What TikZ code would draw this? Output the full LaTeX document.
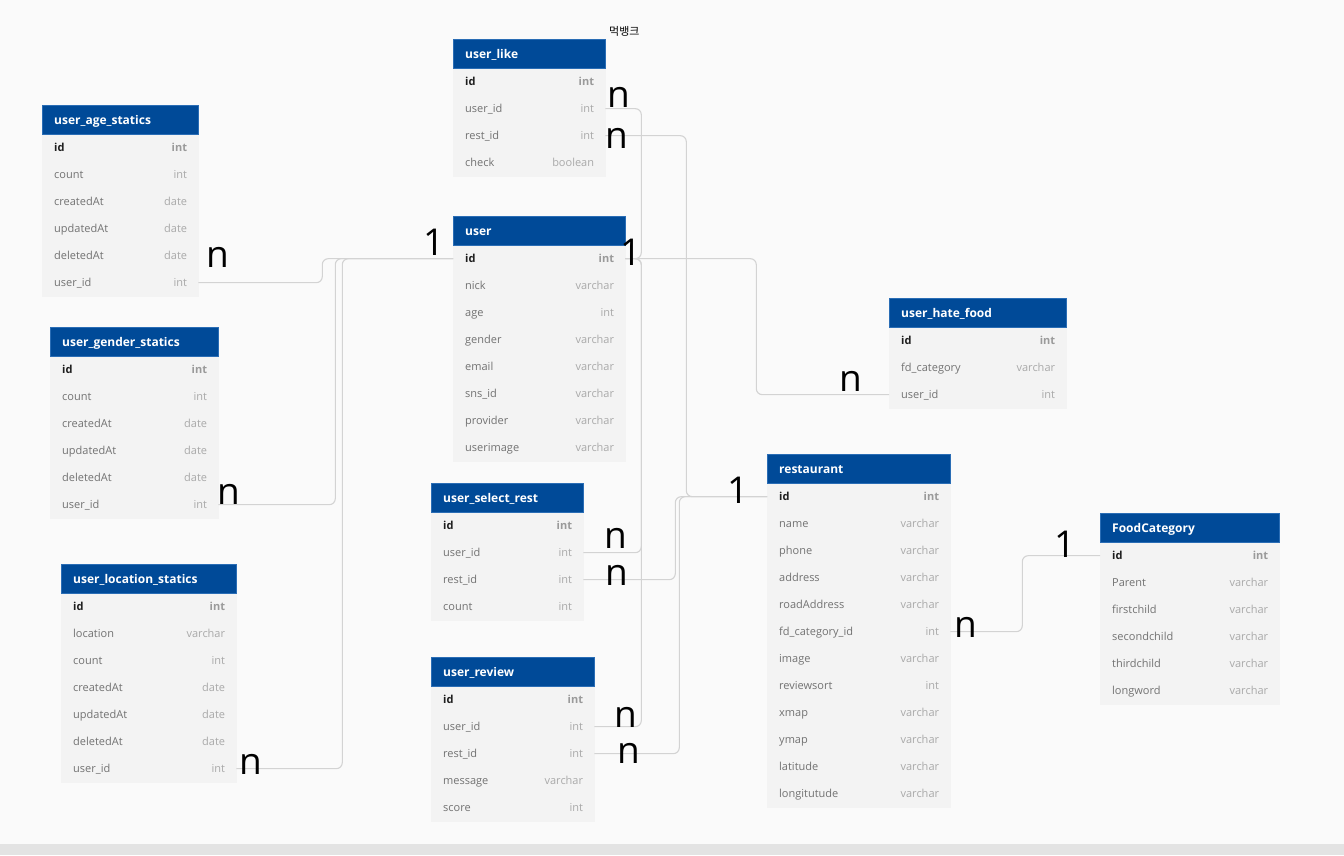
\documentclass[tikz,border=0pt]{standalone}
\usepackage{fontspec}
\setmainfont{Open Sans}
\newfontfamily\krfont{Noto Sans CJK KR}
\definecolor{bgcol}{HTML}{FAFAFA}
\definecolor{barcol}{HTML}{E3E3E3}
\definecolor{hdrblue}{HTML}{004A98}
\definecolor{hdredge}{HTML}{2A6DB5}
\definecolor{bodycol}{HTML}{F3F3F3}
\definecolor{namecol}{HTML}{727272}
\definecolor{typecol}{HTML}{A9A9A9}
\definecolor{idcol}{HTML}{1E1E1E}
\definecolor{idtypecol}{HTML}{9A9A9A}
\definecolor{linecol}{HTML}{D3D3D3}
\tikzset{
  hdr/.style={rectangle, fill=hdrblue, draw=hdredge, line width=0.8pt, inner sep=0, minimum height=29pt, anchor=north west},
  rowbox/.style={rectangle, fill=bodycol, draw=bodycol, line width=0.3pt, inner sep=0, minimum height=27pt, anchor=north west},
  htext/.style={anchor=base west, inner sep=0, text=white, font=\fontsize{12}{14}\selectfont\bfseries},
  fname/.style={anchor=base west, inner sep=0, text=namecol, font=\fontsize{11}{13}\selectfont},
  ftype/.style={anchor=base east, inner sep=0, text=typecol, font=\fontsize{11}{13}\selectfont},
  card/.style={anchor=base, inner sep=0, text=black, font=\fontsize{37}{40}\selectfont},
  conn/.style={draw=linecol, line width=1.1pt, rounded corners=6pt},
}
\newcommand\ertab[7]{%
  \node[rowbox, minimum width=#4pt] (#1-1) at (#2,-#3-29) {};
  \node[fname, text=idcol, font=\fontsize{11}{13}\selectfont\bfseries] (#1-1-n) at ([xshift=12pt,yshift=-3.8pt]#1-1.west) {id};
  \node[ftype, text=idtypecol, font=\fontsize{11}{13}\selectfont\bfseries] (#1-1-t) at ([xshift=-11pt,yshift=-3.8pt]#1-1.east) {#6};
  \foreach \fn/\ft [count=\i from 2] in {#7} {
    \node[rowbox, minimum width=#4pt] (#1-\i) at (#2,{-#3-29-27*(\i-1)}) {};
    \node[fname] (#1-\i-n) at ([xshift=12pt,yshift=-3.8pt]#1-\i.west) {\fn};
    \node[ftype] (#1-\i-t) at ([xshift=-11pt,yshift=-3.8pt]#1-\i.east) {\ft};
  }
  \node[hdr, minimum width=#4pt] (#1-h) at (#2,-#3) {};
  \node[htext] (#1-title) at ([xshift=12pt,yshift=-4.3pt]#1-h.west) {#5};
}
\begin{document}
\begin{tikzpicture}[x=1pt,y=1pt]
\useasboundingbox (0,0) rectangle (1344,-855);
\fill[bgcol] (0,0) rectangle (1344,-855);
\fill[barcol] (0,-844) rectangle (1344,-855);

\node[anchor=base west, inner sep=0, font=\krfont\fontsize{11}{13}\selectfont] (brand) at (609,-35) {먹뱅크};

\ertab{lk}{453}{39}{152}{user\_like}{int}{user\_id/int, rest\_id/int, check/boolean}
\ertab{ua}{42}{105}{156}{user\_age\_statics}{int}{count/int, createdAt/date, updatedAt/date, deletedAt/date, user\_id/int}
\ertab{us}{453}{216}{172}{user}{int}{nick/varchar, age/int, gender/varchar, email/varchar, sns\_id/varchar, provider/varchar, userimage/varchar}
\ertab{ug}{50}{327}{168}{user\_gender\_statics}{int}{count/int, createdAt/date, updatedAt/date, deletedAt/date, user\_id/int}
\ertab{ul}{61}{564}{175}{user\_location\_statics}{int}{location/varchar, count/int, createdAt/date, updatedAt/date, deletedAt/date, user\_id/int}
\ertab{sr}{431}{483}{152}{user\_select\_rest}{int}{user\_id/int, rest\_id/int, count/int}
\ertab{rv}{431}{657}{163}{user\_review}{int}{user\_id/int, rest\_id/int, message/varchar, score/int}
\ertab{hf}{889}{298}{177}{user\_hate\_food}{int}{fd\_category/varchar, user\_id/int}
\ertab{rs}{767}{454}{183}{restaurant}{int}{name/varchar, phone/varchar, address/varchar, roadAddress/varchar, fd\_category\_id/int, image/varchar, reviewsort/int, xmap/varchar, ymap/varchar, latitude/varchar, longitutude/varchar}
\ertab{fc}{1100}{513}{179}{FoodCategory}{int}{Parent/varchar, firstchild/varchar, secondchild/varchar, thirdchild/varchar, longword/varchar}

% connectors
\draw[conn] (ua-6.east) -- ++(124,0) |- (us-1.west);
\draw[conn] (ug-6.east) -- ++(117,0) |- (us-1.west);
\draw[conn] (ul-7.east) -- ++(106,0) |- (us-1.west);
\draw[conn] (lk-2.east) -- ++(36,0) |- (us-1.east);
\draw[conn] (sr-2.east) -- ++(58,0) |- (us-1.east);
\draw[conn] (rv-2.east) -- ++(47,0) |- (us-1.east);
\draw[conn] (us-1.east) -- ++(131,0) |- (hf-3.west);
\draw[conn] (lk-3.east) -- ++(81,0) |- (rs-1.west);
\draw[conn] (sr-3.east) -- ++(92,0) |- (rs-1.west);
\draw[conn] (rv-3.east) -- ++(85,0) |- (rs-1.west);
\draw[conn] (rs-6.east) -- ++(72,0) |- (fc-1.west);

% cardinalities
\node[card] (c1) at (217.5,-267) {n};
\node[card] (c2) at (434,-255) {1};
\node[card] (c3) at (631,-265) {1};
\node[card] (c4) at (618.5,-107) {n};
\node[card] (c5) at (616.5,-148) {n};
\node[card] (c6) at (228.5,-504) {n};
\node[card] (c7) at (250.5,-774) {n};
\node[card] (c8) at (850.5,-391) {n};
\node[card] (c9) at (738,-503) {1};
\node[card] (c10) at (615.5,-548) {n};
\node[card] (c11) at (616.5,-585) {n};
\node[card] (c12) at (625.5,-727) {n};
\node[card] (c13) at (628.5,-763) {n};
\node[card] (c14) at (965.5,-637) {n};
\node[card] (c15) at (1065,-557) {1};
\end{tikzpicture}
\end{document}
